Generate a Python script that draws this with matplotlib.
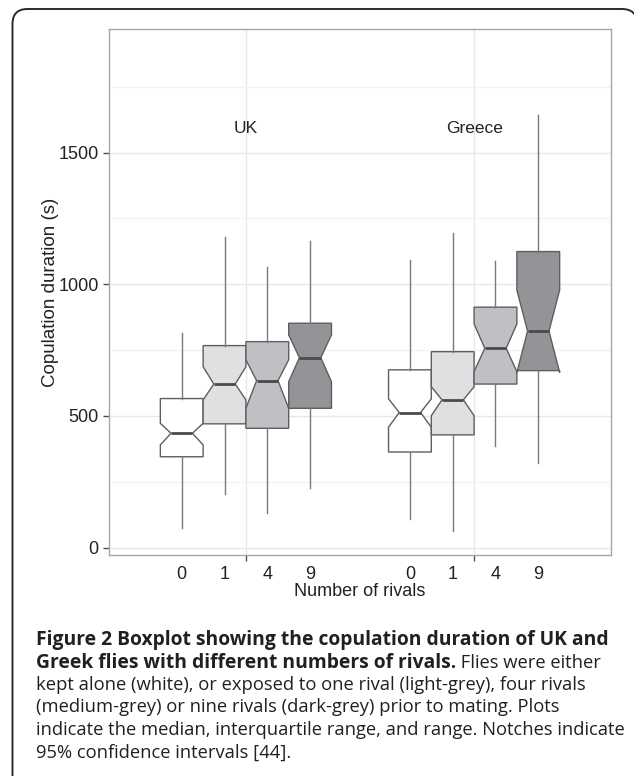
import matplotlib
matplotlib.use("Agg")
import matplotlib.pyplot as plt
from matplotlib.path import Path
from matplotlib.patches import PathPatch
from matplotlib.transforms import Affine2D

# values (seconds)
countries = ["UK", "Greece"]
rivals = ["0", "1", "4", "9"]

uk_min = [76, 203, 131, 228]
uk_q1 = [345, 470, 453, 529]
uk_notch_lo = [390, 561, 529, 630]
uk_median = [434, 621, 634, 721]
uk_notch_hi = [472, 687, 713, 808]
uk_q3 = [566, 767, 782, 852]
uk_max = [814, 1178, 1067, 1166]

gr_min = [109, 65, 387, 320]
gr_q1 = [363, 428, 621, 672]
gr_notch_lo = [457, 501, 668, 665]
gr_median = [513, 561, 757, 822]
gr_notch_hi = [565, 611, 849, 978]
gr_q3 = [675, 744, 913, 1124]
gr_max = [1092, 1194, 1088, 1643]

fills = ["#ffffff", "#dfe0e2", "#bfc0c3", "#939497"]

caption = [
    ("Figure 2 Boxplot showing the copulation duration of UK and", ""),
    ("Greek flies with different numbers of rivals.", " Flies were either"),
    ("", "kept alone (white), or exposed to one rival (light-grey), four rivals"),
    ("", "(medium-grey) or nine rivals (dark-grey) prior to mating. Plots"),
    ("", "indicate the median, interquartile range, and range. Notches indicate"),
    ("", "95% confidence intervals [44]."),
]

plt.rcParams['font.family'] = ['Liberation Sans', 'DejaVu Sans']

W, H = 634, 776
fig = plt.figure(figsize=(W / 100, H / 100), dpi=100)
ax = fig.add_axes([109 / W, (H - 555) / H, 502 / W, 526 / H])

dodge = 0.75
bw = dodge / len(rivals)
stats, positions, colors = [], [], []
data = [(uk_min, uk_q1, uk_notch_lo, uk_median, uk_notch_hi, uk_q3, uk_max),
        (gr_min, gr_q1, gr_notch_lo, gr_median, gr_notch_hi, gr_q3, gr_max)]
for g, (lo, q1, clo, med, chi, q3, hi) in enumerate(data):
    for i in range(len(rivals)):
        stats.append(dict(whislo=lo[i], q1=q1[i], cilo=clo[i], med=med[i],
                          cihi=chi[i], q3=q3[i], whishi=hi[i], fliers=[]))
        positions.append(g + 1 + (i - 1.5) * bw)
        colors.append(fills[i])

bp = ax.bxp(stats, positions=positions, widths=bw, shownotches=True,
            showcaps=False, showfliers=False, patch_artist=True,
            boxprops=dict(edgecolor="#5e5e5e", linewidth=1.0),
            whiskerprops=dict(color="#7a7a7a", linewidth=1.0),
            medianprops=dict(color="#4a4a4a", linewidth=2.0))
for patch, c in zip(bp["boxes"], colors):
    patch.set_facecolor(c)

for g, name in enumerate(countries):
    ax.text(g + 1, 1590, name, ha="center", va="center", fontsize=12.5, color="#222222")

ax.set_xlim(0.4, 2.6)
ax.set_ylim(-28, 1969)
ax.set_xticks([1, 2])
ax.set_xticklabels(["", ""])
ax.set_xticks(positions, minor=True)
ax.set_xticklabels(rivals * 2, minor=True)
ax.set_yticks([0, 500, 1000, 1500])
ax.set_yticks([250, 750, 1250, 1750], minor=True)

ax.grid(which="major", color="#e8e8e8", linewidth=1.0)
ax.grid(which="minor", axis="y", color="#f3f3f3", linewidth=1.0)
ax.set_axisbelow(True)
for s in ax.spines.values():
    s.set_color("#a8a8a8")
    s.set_linewidth(1.0)

ax.tick_params(which="major", length=4, width=1, color="#4d4d4d",
               labelsize=13, labelcolor="#222222")
ax.tick_params(axis="x", which="minor", length=0, pad=8, labelsize=13, labelcolor="#222222")
ax.tick_params(axis="y", which="minor", length=0)

ax.set_xlabel("Number of rivals", fontsize=13, color="#222222", labelpad=0)
ax.set_ylabel("Copulation duration (s)", fontsize=13.5, color="#222222", labelpad=-0.5)

# outer frame in pixel units (y up); right and bottom run off the image
r = 15
left, right, top = 12.5, 637, H - 9
verts = [(left, -10), (left, top - r), (left, top), (left + r, top),
         (right - r, top), (right, top), (right, top - r), (right, -10)]
codes = [Path.MOVETO, Path.LINETO, Path.CURVE3, Path.CURVE3,
         Path.LINETO, Path.CURVE3, Path.CURVE3, Path.LINETO]
px = Affine2D().scale(1 / 100) + fig.dpi_scale_trans
fig.add_artist(PathPatch(Path(verts, codes), transform=px, facecolor="none",
                         edgecolor="#2a2a2a", linewidth=1.4))

cap_font = ["Open Sans", "DejaVu Sans"]
bold_size = 13.9
reg_size = 13.2
y0 = 645
for k, (bold, regular) in enumerate(caption):
    yb = 1 - (y0 + k * 22.5) / H
    if bold:
        t = fig.text(36 / W, yb, bold, fontsize=bold_size, fontweight="bold",
                     family=cap_font, color="#231f20", va="baseline")
        if regular:
            ax.annotate(regular, xy=(1, 0), xycoords=t, va="bottom", ha="left",
                        fontsize=reg_size, family=cap_font, color="#231f20")
    else:
        fig.text(36 / W, yb, regular, fontsize=reg_size, family=cap_font,
                 color="#231f20", va="baseline")

fig.savefig("out.png", dpi=100)
